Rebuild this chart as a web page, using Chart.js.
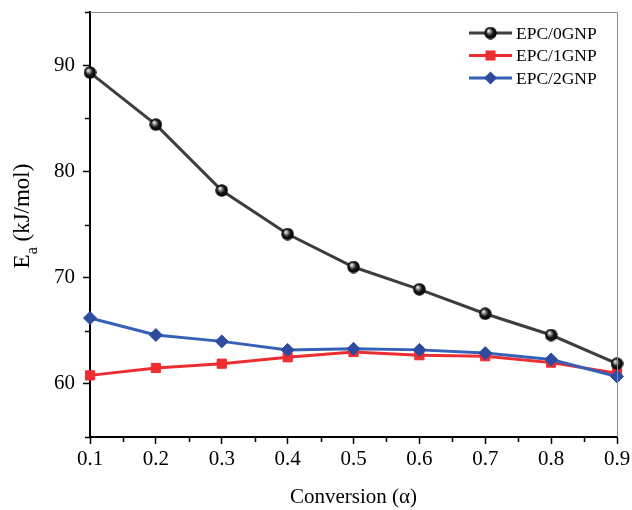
<!DOCTYPE html>
<html>
<head>
<meta charset="utf-8">
<script src="https://cdn.jsdelivr.net/npm/chart.js@4.4.1/dist/chart.umd.min.js"></script>
<style>
    html, body { margin: 0; padding: 0; background: #ffffff; }
    #wrap { width: 632px; height: 510px; }
</style>
</head>
<body>
<div id="wrap"><canvas id="ea-chart" width="632" height="510"></canvas></div>
<script>
// activation energy vs. conversion for the three GNP loadings
const conversion = [0.1, 0.2, 0.3, 0.4, 0.5, 0.6, 0.7, 0.8, 0.9];
const epc0gnp = [89.3, 84.4, 78.2, 74.1, 71.0, 68.9, 66.6, 64.6, 61.9];
const epc1gnp = [60.8, 61.5, 61.9, 62.5, 63.0, 62.7, 62.6, 62.0, 61.0];
const epc2gnp = [66.2, 64.6, 64.0, 63.2, 63.3, 63.2, 62.9, 62.3, 60.7];

const seriesNames = ['EPC/0GNP', 'EPC/1GNP', 'EPC/2GNP'];
const yMajorTicks = [60, 70, 80, 90];
const yMinorTicks = [55, 65, 75, 85, 95];
const xMinorTicks = [0.15, 0.25, 0.35, 0.45, 0.55, 0.65, 0.75, 0.85];

const SERIF = '"Liberation Serif", "Times New Roman", serif';
const BLACK_LINE = '#3d3d3d';
const RED = '#ee2d32';
const BLUE_LINE = '#3761b6';
const BLUE_MARK = '#2d4c9e';

// shaded black ball used as the 0GNP marker
function makeBall(size) {
    const c = document.createElement('canvas');
    c.width = size;
    c.height = size;
    const g = c.getContext('2d');
    const r = size / 2;
    const grad = g.createRadialGradient(r * 0.7, r * 0.65, 0.3, r, r, r);
    grad.addColorStop(0, '#ffffff');
    grad.addColorStop(0.22, '#9a9a9a');
    grad.addColorStop(0.55, '#151515');
    grad.addColorStop(1, '#000000');
    g.fillStyle = grad;
    g.beginPath();
    g.arc(r, r, r - 0.3, 0, Math.PI * 2);
    g.fill();
    return c;
}
const ball = makeBall(13);

function drawMarker(ctx, style, x, y) {
    if (style === 'ball') {
        ctx.drawImage(ball, x - ball.width / 2, y - ball.height / 2);
    } else if (style === 'square') {
        ctx.fillStyle = RED;
        ctx.fillRect(x - 5, y - 5, 10, 10);
    } else {
        ctx.fillStyle = BLUE_MARK;
        ctx.beginPath();
        ctx.moveTo(x - 6.5, y);
        ctx.lineTo(x, y - 6.5);
        ctx.lineTo(x + 6.5, y);
        ctx.lineTo(x, y + 6.5);
        ctx.closePath();
        ctx.fill();
    }
}

// frame, minor ticks, rotated y title with subscript, and line+marker legend
const decorations = {
    id: 'decorations',
    afterDraw(chart) {
        const { ctx, chartArea: a, scales } = chart;
        ctx.save();

        ctx.strokeStyle = '#8a8a8a';
        ctx.lineWidth = 1;
        ctx.beginPath();
        ctx.moveTo(a.left, a.top + 0.5);
        ctx.lineTo(a.right + 0.5, a.top + 0.5);
        ctx.lineTo(a.right + 0.5, a.bottom);
        ctx.stroke();

        ctx.strokeStyle = '#000000';
        ctx.lineWidth = 1.5;
        ctx.beginPath();
        yMinorTicks.forEach(v => {
            const py = Math.round(scales.y.getPixelForValue(v)) + 0.5;
            ctx.moveTo(a.left - 5, py);
            ctx.lineTo(a.left, py);
        });
        xMinorTicks.forEach(v => {
            const px = Math.round(scales.x.getPixelForValue(v)) + 0.5;
            ctx.moveTo(px, a.bottom);
            ctx.lineTo(px, a.bottom + 5);
        });
        ctx.stroke();

        // E_a (kJ/mol)
        const main = '23px ' + SERIF;
        const sub = '16px ' + SERIF;
        ctx.font = main;
        const wE = ctx.measureText('E').width;
        const wRest = ctx.measureText(' (kJ/mol)').width;
        ctx.font = sub;
        const wA = ctx.measureText('a').width;
        const total = wE + wA + wRest;
        ctx.translate(29, 216 + total / 2);
        ctx.rotate(-Math.PI / 2);
        ctx.fillStyle = '#000000';
        ctx.textBaseline = 'alphabetic';
        ctx.textAlign = 'left';
        ctx.font = main;
        ctx.fillText('E', 0, 0);
        ctx.font = sub;
        ctx.fillText('a', wE, 8);
        ctx.font = main;
        ctx.fillText(' (kJ/mol)', wE + wA, 0);
        ctx.setTransform(1, 0, 0, 1, 0, 0);

        const styles = ['ball', 'square', 'diamond'];
        const lineColors = [BLACK_LINE, RED, BLUE_LINE];
        const rowY = [33, 55.5, 78];
        ctx.font = '17.5px ' + SERIF;
        ctx.textBaseline = 'middle';
        seriesNames.forEach((name, i) => {
            const y = rowY[i];
            ctx.strokeStyle = lineColors[i];
            ctx.lineWidth = 3;
            ctx.beginPath();
            ctx.moveTo(469, y);
            ctx.lineTo(512, y);
            ctx.stroke();
            drawMarker(ctx, styles[i], 490.5, y);
            ctx.fillStyle = '#000000';
            ctx.fillText(name, 516, y + 1);
        });
        ctx.restore();
    },
};

const ctx = document.getElementById('ea-chart').getContext('2d');
new Chart(ctx, {
    type: 'line',
    data: {
        labels: conversion,
        datasets: [
            {
                label: seriesNames[0],
                data: conversion.map((x, i) => ({ x, y: epc0gnp[i] })),
                borderColor: BLACK_LINE,
                borderWidth: 3,
                pointStyle: ball,
                pointRadius: 6,
                order: 0,
            },
            {
                label: seriesNames[1],
                data: conversion.map((x, i) => ({ x, y: epc1gnp[i] })),
                borderColor: RED,
                backgroundColor: RED,
                borderWidth: 3,
                pointStyle: 'rect',
                pointRadius: 6.5,
                pointBorderWidth: 1,
                order: 2,
            },
            {
                label: seriesNames[2],
                data: conversion.map((x, i) => ({ x, y: epc2gnp[i] })),
                borderColor: BLUE_LINE,
                backgroundColor: BLUE_MARK,
                borderWidth: 3,
                pointStyle: 'rectRot',
                pointRadius: 6.5,
                pointBorderWidth: 1,
                pointBorderColor: BLUE_MARK,
                order: 1,
            },
        ],
    },
    options: {
        responsive: false,
        animation: false,
        layout: { padding: { top: 12, right: 15, left: 0, bottom: 0 } },
        elements: { line: { tension: 0 } },
        datasets: { line: { clip: false } },
        plugins: {
            legend: { display: false },
            tooltip: { enabled: false },
        },
        scales: {
            x: {
                type: 'linear',
                min: 0.1,
                max: 0.9,
                afterBuildTicks: scale => { scale.ticks = conversion.map(v => ({ value: v })); },
                afterFit: scale => {
                    scale.height = 73;
                    scale.paddingLeft = 0;
                    scale.paddingRight = 0;
                },
                border: { color: '#000000', width: 2 },
                grid: { drawOnChartArea: false, tickLength: 7, tickWidth: 1.5, tickColor: '#000000' },
                ticks: {
                    padding: 3,
                    color: '#000000',
                    font: { family: SERIF, size: 21 },
                    callback: v => v.toFixed(1),
                    maxRotation: 0,
                },
                title: {
                    display: true,
                    text: 'Conversion (α)',
                    color: '#000000',
                    font: { family: SERIF, size: 21 },
                    padding: 0,
                },
            },
            y: {
                min: 55,
                max: 95,
                afterBuildTicks: scale => { scale.ticks = yMajorTicks.map(v => ({ value: v })); },
                afterFit: scale => {
                    scale.width = 90;
                    scale.paddingTop = 0;
                    scale.paddingBottom = 0;
                },
                border: { color: '#000000', width: 2 },
                grid: { drawOnChartArea: false, tickLength: 7, tickWidth: 1.5, tickColor: '#000000' },
                ticks: {
                    padding: 8,
                    color: '#000000',
                    font: { family: SERIF, size: 21 },
                },
            },
        },
    },
    plugins: [decorations],
});
</script>
</body>
</html>
